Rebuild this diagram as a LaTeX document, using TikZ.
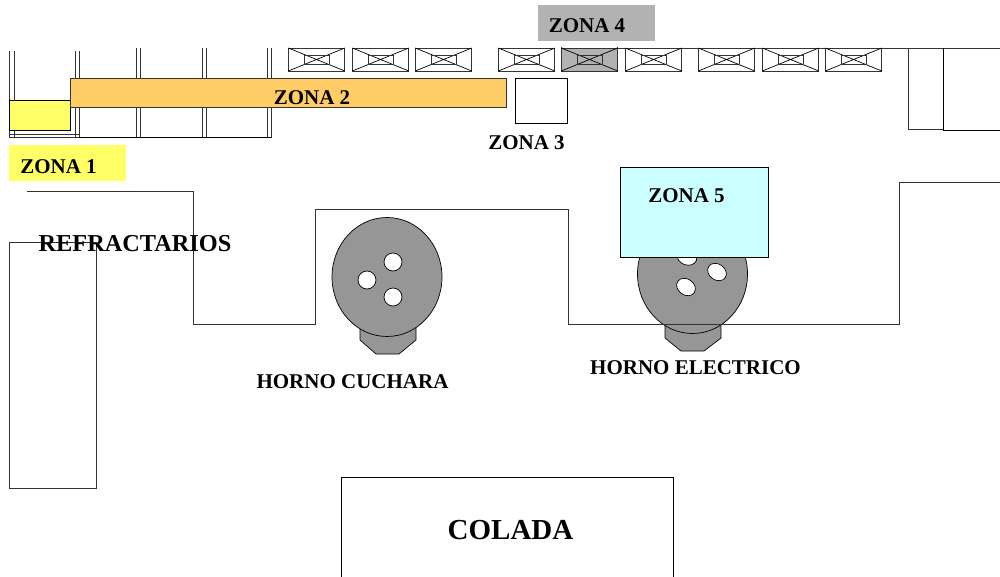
\documentclass[tikz,border=0pt]{standalone}
\usepackage{fontspec}
\setmainfont{Liberation Serif}
\definecolor{grayfill}{HTML}{969696}
\definecolor{zonegray}{HTML}{B2B2B2}
\definecolor{zoneyellow}{HTML}{FFFF66}
\definecolor{zoneorange}{HTML}{FFCC66}
\definecolor{zonecyan}{HTML}{CCFFFF}
\definecolor{linegray}{HTML}{333333}
\tikzset{
  ln/.style={draw=black,line width=0.85pt},
  thin ln/.style={draw=linegray,line width=0.85pt},
  lbl/.style={font=\bfseries\fontsize{21}{25}\selectfont,inner sep=0pt,text=black},
  hole/.style={fill=white,draw=black,line width=0.7pt},
  oven/.style={fill=grayfill,draw=black,line width=0.7pt},
}
\newcommand{\rackbox}[2][white]{%
  \path[fill=#1] (#2+0.3,48) rectangle ++(56.5,23);
  \draw[thin ln] (#2+0.3,48) rectangle ++(56.5,23);
  \draw[black,line width=0.7pt] (#2+0.3,48) -- ++(56.5,23) (#2+0.3,71) -- ++(56.5,-23);
  \draw[thin ln] (#2+16.3,55) rectangle ++(25,9);
}
\begin{document}
\begin{tikzpicture}[x=1pt,y=-1pt]
\useasboundingbox (0,0) rectangle (1000,576);
% upper double lines of the bays
\foreach \a/\t in {9.5/51,14/51,75/51,79/51,136/48,140/48,202/48,206/48,267/48,271/48}
  \draw[thin ln] (\a,\t) -- (\a,137.5);
\draw[thin ln] (9,134.5) -- (79,134.5) (9,137.5) -- (79,137.5);
\draw[ln] (79,137.5) -- (271,137.5);
% zones
\path[fill=zonegray] (538,5) rectangle (655,41);
\path[fill=zoneyellow] (9,145) rectangle (126,181);
\draw[ln,fill=zoneyellow] (9.5,100) rectangle (70.5,130);
\draw[thin ln,fill=zoneorange] (70.5,78) rectangle (506.5,107.5);
\draw[ln] (515,78) rectangle (567.5,123);
% top line and racks
\draw[thin ln] (561,48) -- (1000,48);
\foreach \a in {288,352,415,498,625,698,762,825} \rackbox{\a}
\rackbox[zonegray]{561}
% right side bays
\draw[thin ln] (908,48) rectangle (943,129.5);
\draw[ln] (943,48) -- (943,130) -- (1000,130);
% furnaces
\draw[oven] (360,325) -- (360,340) -- (376,354) -- (399,354) -- (416,340) -- (416,325);
\draw[oven] (387,277) ellipse [x radius=55,y radius=59.5];
\draw[hole] (393,262) circle [radius=9];
\draw[hole] (367,280) circle [radius=9];
\draw[hole] (393,297) circle [radius=9];
\draw[oven] (665,322) -- (665,338) -- (681,351) -- (704,351) -- (721,338) -- (721,322);
\draw[oven] (692.5,274) ellipse [x radius=55,y radius=59.5];
\draw[hole] (717,272) ellipse [x radius=10,y radius=8,rotate=-35];
\draw[hole] (686,287) ellipse [x radius=10,y radius=8,rotate=-35];
\draw[hole] (687,257) ellipse [x radius=10,y radius=8,rotate=-20];
% wall
\draw[thin ln] (27,191) -- (193,191) -- (193,324) -- (315,324) -- (315,209) -- (568,209) -- (568,324) -- (899,324) -- (899,182) -- (1000,182);
\draw[ln,fill=zonecyan] (620,167) rectangle (768.5,257);
% other rooms
\draw[thin ln] (9,242) rectangle (96,488);
\draw[ln] (341.5,577) -- (341.5,477) -- (673,477) -- (673,577);
% labels
\node[lbl] (z1) at (58.5,167) {ZONA 1};
\node[lbl] (z2) at (312,98) {ZONA 2};
\node[lbl] (z3) at (526.5,143) {ZONA 3};
\node[lbl] (z4) at (587,26) {ZONA 4};
\node[lbl] (z5) at (686.5,196) {ZONA 5};
\node[lbl,font=\bfseries\fontsize{24.3}{28}\selectfont] (refr) at (135,244) {REFRACTARIOS};
\node[lbl] (hc) at (352.5,382) {HORNO CUCHARA};
\node[lbl] (he) at (695.5,368) {HORNO ELECTRICO};
\node[lbl,font=\bfseries\fontsize{29}{34}\selectfont] (col) at (510.5,530) {COLADA};
\end{tikzpicture}
\end{document}
